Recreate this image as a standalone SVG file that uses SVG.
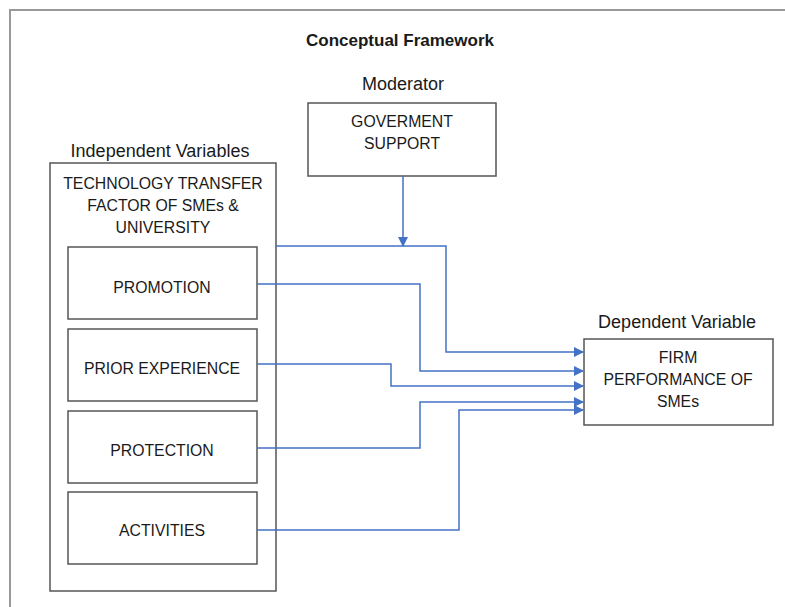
<svg xmlns="http://www.w3.org/2000/svg" width="785" height="607" viewBox="0 0 785 607">
<defs>
<style>
text{font-family:"Liberation Sans",Arial,sans-serif;font-size:15.8px;fill:#1a1a1a;text-anchor:middle}
.b{font-weight:bold;font-size:17px}
.l{font-size:18px}
.box{fill:#fff;stroke:#555;stroke-width:1.5}
.c{fill:none;stroke:#4472C4;stroke-width:1.5}
</style>
<marker id="ah" markerWidth="10" markerHeight="10" refX="9" refY="5" orient="auto" markerUnits="userSpaceOnUse">
<path d="M0,0 L10,5 L0,10 z" fill="#4472C4"/>
</marker>
</defs>
<rect width="785" height="607" fill="#fff"/>
<path d="M10,607 V10 H785" fill="none" stroke="#999" stroke-width="2"/>
<text class="b" x="400" y="46">Conceptual Framework</text>
<text class="l" x="403" y="90">Moderator</text>
<text class="l" x="160" y="157">Independent Variables</text>
<text class="l" x="677" y="328">Dependent Variable</text>
<g id="gov">
<rect class="box" x="308" y="103" width="188" height="73"/>
<text x="402" y="127">GOVERMENT</text>
<text x="402" y="149">SUPPORT</text>
</g>
<g id="independent">
<rect class="box" x="50" y="163" width="226" height="428"/>
<text x="163" y="189">TECHNOLOGY TRANSFER</text>
<text x="163" y="211">FACTOR OF SMEs &amp;</text>
<text x="163" y="233">UNIVERSITY</text>
</g>
<g id="promotion">
<rect class="box" x="68" y="247" width="189" height="72"/>
<text x="162" y="293">PROMOTION</text>
</g>
<g id="prior">
<rect class="box" x="68" y="329" width="189" height="72"/>
<text x="162" y="374">PRIOR EXPERIENCE</text>
</g>
<g id="protection">
<rect class="box" x="68" y="411" width="189" height="72"/>
<text x="162" y="456">PROTECTION</text>
</g>
<g id="activities">
<rect class="box" x="68" y="492" width="189" height="72"/>
<text x="162" y="536">ACTIVITIES</text>
</g>
<g id="firm">
<rect class="box" x="584" y="339" width="189" height="86"/>
<text x="678" y="363">FIRM</text>
<text x="678" y="385">PERFORMANCE OF</text>
<text x="678" y="407">SMEs</text>
</g>
<g id="connectors">
<path class="c" d="M403,176 V246" marker-end="url(#ah)"/>
<path class="c" d="M276,246 H446 V352 H583" marker-end="url(#ah)"/>
<path class="c" d="M257,284 H420 V371 H583" marker-end="url(#ah)"/>
<path class="c" d="M257,364 H391 V386 H583" marker-end="url(#ah)"/>
<path class="c" d="M257,448 H420 V402 H583" marker-end="url(#ah)"/>
<path class="c" d="M257,530 H459 V410 H583" marker-end="url(#ah)"/>
</g>
</svg>
